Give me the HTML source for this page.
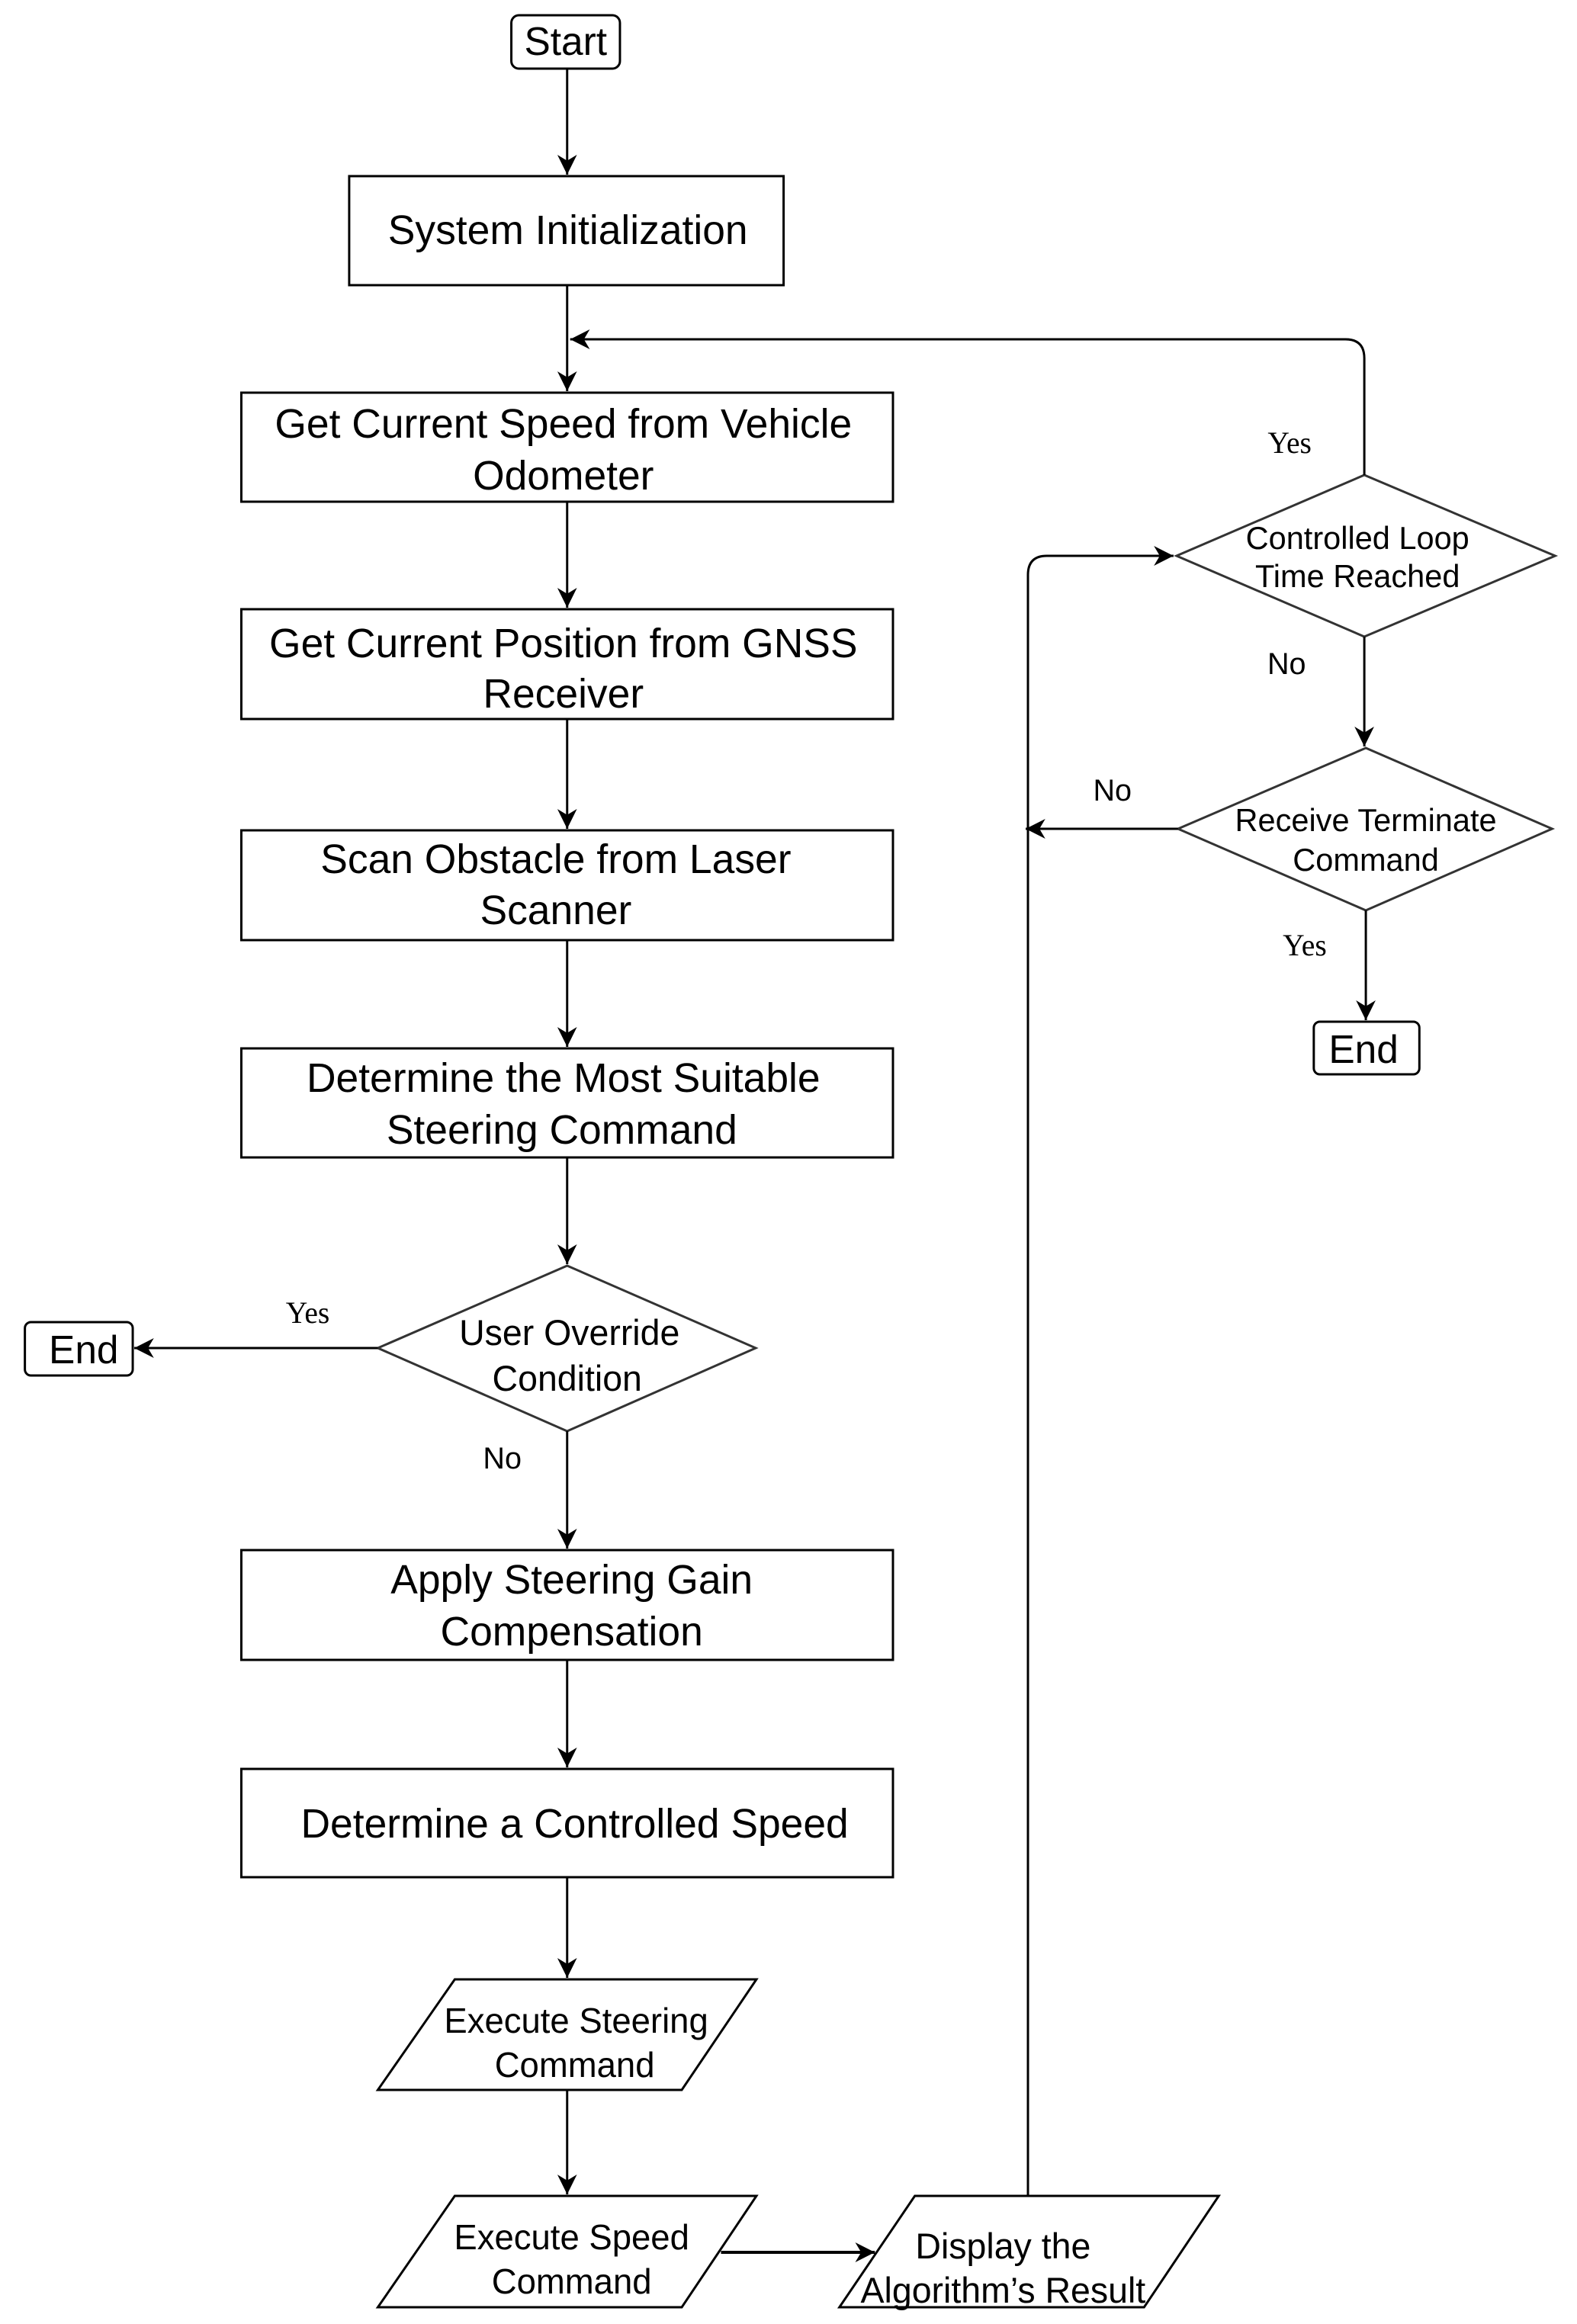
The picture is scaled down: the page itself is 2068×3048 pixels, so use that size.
<!DOCTYPE html>
<html><head><meta charset="utf-8"><style>html,body{margin:0;padding:0;background:#fff}svg{display:block}</style></head>
<body>
<svg width="2068" height="3048" viewBox="0 0 2068 3048" xmlns="http://www.w3.org/2000/svg" font-family="Liberation Sans, sans-serif">
<defs>
<marker id="b" viewBox="0 0 10 10" refX="10" refY="5" markerWidth="26" markerHeight="26" markerUnits="userSpaceOnUse" orient="auto"><path d="M0,0 L10,5 L0,10 L3,5 z" fill="#000"/></marker>
</defs>
<g transform="scale(0.989,1)">
<g fill="none" stroke="#000" stroke-width="3">
<rect x="678" y="20" width="144" height="70" rx="10"/>
<rect x="463" y="231" width="576" height="143"/>
<rect x="320" y="515" width="864" height="143"/>
<rect x="320" y="799" width="864" height="144"/>
<rect x="320" y="1089" width="864" height="144"/>
<rect x="320" y="1375" width="864" height="143"/>
<polygon points="752,1660 1002,1768 752,1877 501,1768" stroke="#333"/>
<rect x="33" y="1734" width="143" height="70" rx="8"/>
<rect x="320" y="2033" width="864" height="144"/>
<rect x="320" y="2320" width="864" height="142"/>
<polygon points="603,2596 1003,2596 904,2741 501,2741"/>
<polygon points="603,2880 1003,2880 904,3026 501,3026"/>
<polygon points="1213,2880 1616,2880 1517,3026 1113,3026"/>
<polygon points="1809,623 2062,729 1809,835 1560,729" stroke="#333"/>
<polygon points="1811,981 2058,1087 1811,1194 1562,1087" stroke="#333"/>
<rect x="1742" y="1340" width="140" height="69" rx="8"/>
</g>
<g fill="none" stroke="#000" stroke-width="3">
<line x1="752" y1="90" x2="752" y2="229" marker-end="url(#b)"/>
<line x1="752" y1="374" x2="752" y2="513" marker-end="url(#b)"/>
<line x1="752" y1="658" x2="752" y2="797" marker-end="url(#b)"/>
<line x1="752" y1="943" x2="752" y2="1087" marker-end="url(#b)"/>
<line x1="752" y1="1233" x2="752" y2="1373" marker-end="url(#b)"/>
<line x1="752" y1="1518" x2="752" y2="1658" marker-end="url(#b)"/>
<line x1="501" y1="1768" x2="178" y2="1768" marker-end="url(#b)"/>
<line x1="752" y1="1877" x2="752" y2="2031" marker-end="url(#b)"/>
<line x1="752" y1="2177" x2="752" y2="2318" marker-end="url(#b)"/>
<line x1="752" y1="2462" x2="752" y2="2594" marker-end="url(#b)"/>
<line x1="752" y1="2741" x2="752" y2="2878" marker-end="url(#b)"/>
<line x1="956" y1="2954" x2="1160" y2="2954" stroke-width="4" marker-end="url(#b)"/>
<path d="M1363,2880 L1363,754 Q1363,729 1388,729 L1556,729" marker-end="url(#b)"/>
<path d="M1809,623 L1809,470 Q1809,445 1784,445 L756,445" marker-end="url(#b)"/>
<line x1="1809" y1="835" x2="1809" y2="979" marker-end="url(#b)"/>
<line x1="1562" y1="1087" x2="1360" y2="1087" marker-end="url(#b)"/>
<line x1="1811" y1="1194" x2="1811" y2="1338" marker-end="url(#b)"/>
</g>
<g fill="#000" text-anchor="middle" font-size="54">
<text x="750" y="72" font-size="52">Start</text>
<text x="753" y="320">System Initialization</text>
<text x="747" y="574">Get Current Speed from Vehicle</text>
<text x="747" y="642">Odometer</text>
<text x="747" y="862">Get Current Position from GNSS</text>
<text x="747" y="928">Receiver</text>
<text x="737" y="1145">Scan Obstacle from Laser</text>
<text x="737" y="1212">Scanner</text>
<text x="747" y="1432">Determine the Most Suitable</text>
<text x="745" y="1500">Steering Command</text>
<text x="755" y="1764" font-size="47">User Override</text>
<text x="752" y="1824" font-size="47">Condition</text>
<text x="111" y="1788" font-size="52">End</text>
<text x="758" y="2090">Apply Steering Gain</text>
<text x="758" y="2158">Compensation</text>
<text x="762" y="2410">Determine a Controlled Speed</text>
<text x="764" y="2666" font-size="46">Execute Steering</text>
<text x="762" y="2724" font-size="46">Command</text>
<text x="758" y="2950" font-size="46">Execute Speed</text>
<text x="758" y="3008" font-size="46">Command</text>
<text x="1330" y="2962" font-size="47">Display the</text>
<text x="1330" y="3020" font-size="47">Algorithm’s Result</text>
<text x="1800" y="720" font-size="42">Controlled Loop</text>
<text x="1800" y="770" font-size="42">Time Reached</text>
<text x="1811" y="1090" font-size="42">Receive Terminate</text>
<text x="1811" y="1142" font-size="42">Command</text>
<text x="1808" y="1394" font-size="52">End</text>
</g>
<g fill="#000" text-anchor="middle" font-size="40">
<text x="1710" y="594" font-family="Liberation Serif, serif">Yes</text>
<text x="1706" y="884">No</text>
<text x="1475" y="1050">No</text>
<text x="1730" y="1253" font-family="Liberation Serif, serif">Yes</text>
<text x="408" y="1735" font-family="Liberation Serif, serif">Yes</text>
<text x="666" y="1926">No</text>
</g>
</g>
</svg>
</body></html>
